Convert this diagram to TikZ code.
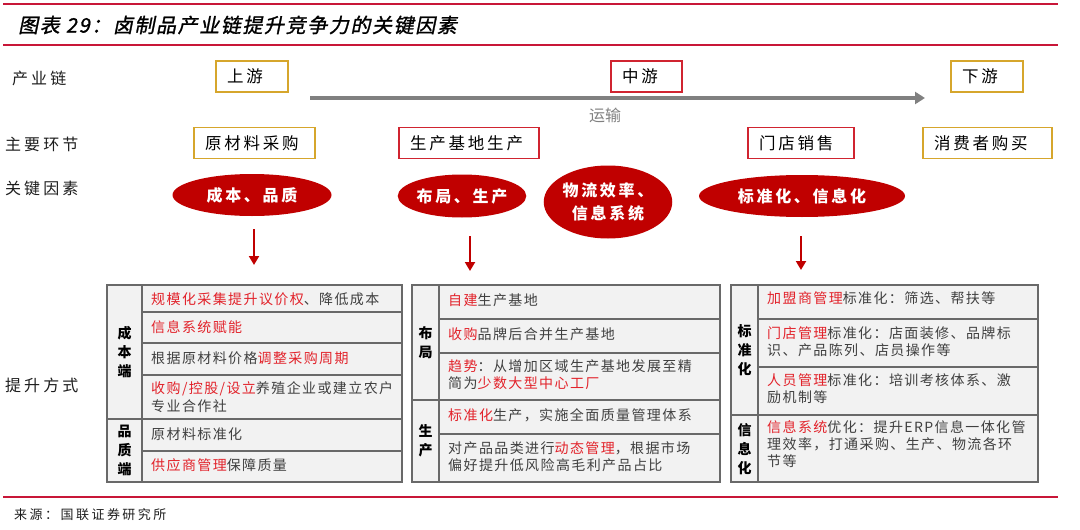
\documentclass[tikz,border=0pt]{standalone}
\usepackage{fontspec}
\setmainfont{Noto Sans CJK SC}
\newfontfamily\cellfont[LetterSpace=10]{Noto Sans CJK SC}
\newfontfamily\lblfont[LetterSpace=19]{Noto Sans CJK SC}
\newfontfamily\boxfont[LetterSpace=17]{Noto Sans CJK SC}
\newfontfamily\titlefont[FakeSlant=0.2,FakeBold=1.2,LetterSpace=8]{Noto Sans CJK SC}
\usetikzlibrary{shapes.geometric,arrows.meta}
\definecolor{ruleRed}{RGB}{200,22,56}
\definecolor{goldc}{RGB}{214,166,44}
\definecolor{boxred}{RGB}{208,36,48}
\definecolor{ellred}{RGB}{192,0,0}
\definecolor{arrgray}{RGB}{128,128,128}
\definecolor{cellfill}{RGB}{242,242,242}
\definecolor{cellline}{RGB}{105,105,105}
\definecolor{txtred}{RGB}{226,34,42}
\definecolor{txtdark}{RGB}{64,64,64}
\definecolor{lblc}{RGB}{30,30,30}
\newcommand\rtx[1]{\textcolor{txtred}{#1}}
\begin{document}
\begin{tikzpicture}[x=1pt,y=-1pt,
  rowlbl/.style={anchor=west, inner sep=0pt, text=lblc, font=\lblfont\fontsize{16}{19}\selectfont},
  stagebox/.style={draw, line width=1.5pt, fill=white, inner xsep=11pt, inner ysep=0pt,
     minimum height=31pt, align=left, text=black, font=\boxfont\fontsize{16.5}{19}\selectfont},
  goldbox/.style={stagebox, draw=goldc},
  redbox/.style={stagebox, draw=boxred},
  factor/.style={ellipse, fill=ellred, inner sep=0pt, text=white, align=center,
     font=\boxfont\bfseries\fontsize{16}{23}\selectfont},
  redarr/.style={draw=ellred, line width=2pt, -{Triangle[length=9pt,width=10pt]}},
  grayarr/.style={draw=arrgray, line width=4pt, -{Triangle[length=10pt,width=12pt]}},
  tblfill/.style={fill=cellfill, draw=cellline, line width=1.5pt},
  tblline/.style={draw=cellline, line width=1.5pt},
  cell/.style={anchor=west, inner sep=0pt, align=left, text=txtdark,
     font=\cellfont\fontsize{14}{16.8}\selectfont},
  seclbl/.style={inner sep=0pt, align=center, text=black,
     font=\cellfont\bfseries\fontsize{14}{19}\selectfont},
  rule/.style={draw=ruleRed}
]
\useasboundingbox (0,0) rectangle (1080,530);

% header and footer rules
\draw[rule, line width=2.5pt] (3,4) -- (1058,4);
\draw[rule, line width=1.5pt] (3,45) -- (1058,45);
\draw[rule, line width=2pt] (3,497) -- (1058,497);
\node[anchor=west, inner sep=0pt, font=\titlefont\fontsize{20}{22}\selectfont] (title) at (18,25) {图表 29：卤制品产业链提升竞争力的关键因素};
\node[anchor=west, inner sep=0pt, text=lblc, font=\lblfont\fontsize{13}{16}\selectfont] (src) at (14,515) {来源：国联证券研究所};

% row labels
\node[rowlbl] (l1) at (12,78) {产业链};
\node[rowlbl] (l2) at (5,144) {主要环节};
\node[rowlbl] (l3) at (5,188) {关键因素};
\node[rowlbl] (l4) at (5,385) {提升方式};

% chain stages
\node[goldbox, text width=50pt] (up) at (252,76.5) {上游};
\node[redbox, text width=49pt] (mid) at (646.5,76.5) {中游};
\node[goldbox, text width=50pt] (down) at (987,76.5) {下游};
\coordinate (ts) at (310,98);
\coordinate (te) at (925,98);
\draw[grayarr] (ts) -- (te);
\node[inner sep=0pt, text=arrgray, font=\fontsize{16}{19}\selectfont] (trans) at (605,115) {运输};

% main links
\node[goldbox, text width=99pt] (raw) at (254.5,143) {原材料采购};
\node[redbox, text width=118pt] (prod) at (469,143) {生产基地生产};
\node[redbox, text width=84pt] (store) at (801,143) {门店销售};
\node[goldbox, text width=107pt] (cons) at (987.5,143) {消费者购买};

% key factors
\node[factor, minimum width=159pt, minimum height=42pt] (f1) at (252,195) {成本、品质};
\node[factor, minimum width=121pt, minimum height=43pt] (f2) at (462,196) {布局、生产};
\node[factor, minimum width=123pt, minimum height=73pt] (f3) at (608,202) {物流效率、\\信息系统};
\node[factor, minimum width=206pt, minimum height=42pt] (f4) at (802,196) {标准化、信息化};

\coordinate (a1s) at (254,229); \coordinate (a1e) at (254,265);
\coordinate (a2s) at (470,236); \coordinate (a2e) at (470,271);
\coordinate (a3s) at (801,236); \coordinate (a3e) at (801,270);
\draw[redarr] (a1s) -- (a1e);
\draw[redarr] (a2s) -- (a2e);
\draw[redarr] (a3s) -- (a3e);

% table 1
\filldraw[tblfill] (107,285) rectangle (402,482);
\draw[tblline] (142,285) -- (142,482);
\draw[tblline] (142,312) -- (402,312) (142,343) -- (402,343) (142,375) -- (402,375)
  (107,419) -- (402,419) (142,451) -- (402,451);
\node[seclbl] (s11) at (124.5,352) {成\\本\\端};
\node[seclbl] (s12) at (124.5,450) {品\\质\\端};
\node[cell] (c11) at (151,299) {\rtx{规模化采集提升议价权}、降低成本};
\node[cell] (c12) at (151,327) {\rtx{信息系统赋能}};
\node[cell] (c13) at (151,358) {根据原材料价格\rtx{调整采购周期}};
\node[cell, font=\cellfont\fontsize{14}{17.7}\selectfont] (c14) at (151,397) {\rtx{收购/控股/设立}养殖企业或建立农户\\专业合作社};
\node[cell] (c15) at (151,434) {原材料标准化};
\node[cell] (c16) at (151,465) {\rtx{供应商管理}保障质量};

% table 2
\filldraw[tblfill] (412,285) rectangle (720,482);
\draw[tblline] (439,285) -- (439,482);
\draw[tblline] (439,319) -- (720,319) (439,353) -- (720,353) (412,400) -- (720,400) (439,434) -- (720,434);
\node[seclbl] (s21) at (425.5,343) {布\\局};
\node[seclbl] (s22) at (425.5,441) {生\\产};
\node[cell] (c21) at (448,300) {\rtx{自建}生产基地};
\node[cell] (c22) at (448,334) {\rtx{收购}品牌后合并生产基地};
\node[cell] (c23) at (448,375) {\rtx{趋势}：从增加区域生产基地发展至精\\简为\rtx{少数大型中心工厂}};
\node[cell] (c24) at (448,415) {\rtx{标准化}生产，实施全面质量管理体系};
\node[cell] (c25) at (448,457) {对产品品类进行\rtx{动态管理}，根据市场\\偏好提升低风险高毛利产品占比};

% table 3
\filldraw[tblfill] (731,285) rectangle (1038,482);
\draw[tblline] (758,285) -- (758,482);
\draw[tblline] (758,319) -- (1038,319) (758,367) -- (1038,367) (731,415) -- (1038,415);
\node[seclbl] (s31) at (744.5,350) {标\\准\\化};
\node[seclbl] (s32) at (744.5,449) {信\\息\\化};
\node[cell] (c31) at (767,298) {\rtx{加盟商管理}标准化：筛选、帮扶等};
\node[cell] (c32) at (767,342) {\rtx{门店管理}标准化：店面装修、品牌标\\识、产品陈列、店员操作等};
\node[cell] (c33) at (767,389) {\rtx{人员管理}标准化：培训考核体系、激\\励机制等};
\node[cell] (c34) at (767,444) {\rtx{信息系统}优化：提升ERP信息一体化管\\理效率，打通采购、生产、物流各环\\节等};
\end{tikzpicture}
\end{document}
